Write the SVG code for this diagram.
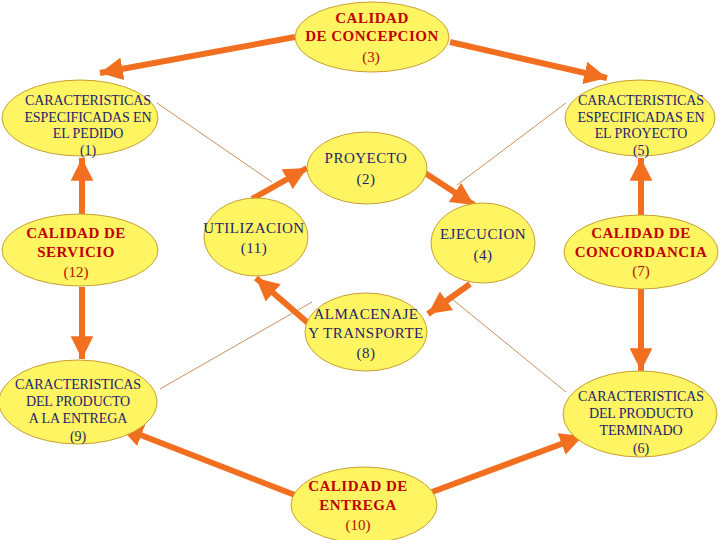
<svg xmlns="http://www.w3.org/2000/svg" width="720" height="540" viewBox="0 0 720 540">
<defs>
<style>
.n{fill:#FFF462;stroke:#C9A033;stroke-width:1}
.t{font-family:"Liberation Serif","Times New Roman",serif;font-size:14px;letter-spacing:-0.1px;fill:#1E1E6E;text-anchor:middle}
.i{font-family:"Liberation Serif","Times New Roman",serif;font-size:15px;letter-spacing:0.5px;fill:#1E1E6E;text-anchor:middle}
.r{font-family:"Liberation Serif","Times New Roman",serif;font-size:15px;letter-spacing:0.5px;font-weight:bold;fill:#C00000;text-anchor:middle}
.rn{font-family:"Liberation Serif","Times New Roman",serif;font-size:15px;fill:#B01000;text-anchor:middle}
.a{stroke:#F26F1F;stroke-width:6;fill:none;marker-end:url(#ah)}
.l{stroke:#C89060;stroke-width:1;fill:none}
</style>
<marker id="ah" viewBox="0 0 10 10" refX="10" refY="5" markerWidth="3.8" markerHeight="3.8" orient="auto" markerUnits="strokeWidth">
<path d="M0,0 L10,5 L0,10 z" fill="#F26F1F"/>
</marker>
</defs>
<rect width="720" height="540" fill="#FFFFFF"/>
<g id="connectors">
<line class="l" x1="157" y1="103" x2="272" y2="182"/>
<line class="l" x1="566" y1="103" x2="457" y2="185"/>
<line class="l" x1="160" y1="389" x2="312" y2="302"/>
<line class="l" x1="566" y1="392" x2="452" y2="299"/>
<line class="a" x1="295" y1="37" x2="100" y2="73"/>
<line class="a" x1="450" y1="42" x2="607" y2="78"/>
<line class="a" x1="82" y1="214" x2="82" y2="158"/>
<line class="a" x1="82" y1="287" x2="82" y2="359"/>
<line class="a" x1="641" y1="216" x2="641" y2="158"/>
<line class="a" x1="641" y1="289" x2="641" y2="371"/>
<line class="a" x1="300" y1="497" x2="120" y2="427"/>
<line class="a" x1="432" y1="492" x2="583" y2="436"/>
<line class="a" x1="252" y1="199" x2="307" y2="168"/>
<line class="a" x1="425" y1="173" x2="474" y2="205"/>
<line class="a" x1="470" y1="284" x2="428" y2="314"/>
<line class="a" x1="308" y1="323" x2="256" y2="278"/>
</g>
<g id="n3"><ellipse class="n" cx="372" cy="37" rx="77" ry="35"/>
<text class="r" x="372" y="23">CALIDAD</text><text class="r" x="372" y="41">DE CONCEPCION</text><text class="rn" x="371" y="62">(3)</text></g>
<g id="n1"><ellipse class="n" cx="80" cy="118" rx="78" ry="38"/>
<text class="t" x="88" y="105">CARACTERISTICAS</text><text class="t" x="88" y="122">ESPECIFICADAS EN</text><text class="t" x="88" y="138">EL PEDIDO</text><text class="t" x="88" y="155">(1)</text></g>
<g id="n5"><ellipse class="n" cx="640" cy="118" rx="75" ry="38"/>
<text class="t" x="641" y="105">CARACTERISTICAS</text><text class="t" x="641" y="122">ESPECIFICADAS EN</text><text class="t" x="641" y="138">EL PROYECTO</text><text class="t" x="641" y="155">(5)</text></g>
<g id="n12"><ellipse class="n" cx="80" cy="250" rx="78" ry="36"/>
<text class="r" x="76" y="238">CALIDAD DE</text><text class="r" x="76" y="257">SERVICIO</text><text class="rn" x="76" y="277">(12)</text></g>
<g id="n7"><ellipse class="n" cx="641" cy="252" rx="77" ry="37"/>
<text class="r" x="641" y="238">CALIDAD DE</text><text class="r" x="641" y="257">CONCORDANCIA</text><text class="rn" x="641" y="276">(7)</text></g>
<g id="n2"><ellipse class="n" cx="367" cy="168" rx="60" ry="36"/>
<text class="i" x="366" y="163">PROYECTO</text><text class="i" x="366" y="184">(2)</text></g>
<g id="n11"><ellipse class="n" cx="256" cy="237" rx="52" ry="39"/>
<text class="i" x="254" y="233">UTILIZACION</text><text class="i" x="254" y="253">(11)</text></g>
<g id="n4"><ellipse class="n" cx="483" cy="243" rx="52" ry="40"/>
<text class="i" x="483" y="239">EJECUCION</text><text class="i" x="483" y="260">(4)</text></g>
<g id="n8"><ellipse class="n" cx="366" cy="332" rx="61" ry="39"/>
<text class="i" x="366" y="319">ALMACENAJE</text><text class="i" x="366" y="338">Y TRANSPORTE</text><text class="i" x="366" y="358">(8)</text></g>
<g id="n9"><ellipse class="n" cx="78" cy="402" rx="79" ry="42"/>
<text class="t" x="78" y="389">CARACTERISTICAS</text><text class="t" x="78" y="406">DEL PRODUCTO</text><text class="t" x="78" y="423">A LA ENTREGA</text><text class="t" x="78" y="441">(9)</text></g>
<g id="n6"><ellipse class="n" cx="640" cy="414" rx="77" ry="43"/>
<text class="t" x="641" y="401">CARACTERISTICAS</text><text class="t" x="641" y="418">DEL PRODUCTO</text><text class="t" x="641" y="435">TERMINADO</text><text class="t" x="641" y="453">(6)</text></g>
<g id="n10"><ellipse class="n" cx="364" cy="505" rx="73" ry="38"/>
<text class="r" x="358" y="491">CALIDAD DE</text><text class="r" x="358" y="510">ENTREGA</text><text class="rn" x="358" y="530">(10)</text></g>
</svg>
